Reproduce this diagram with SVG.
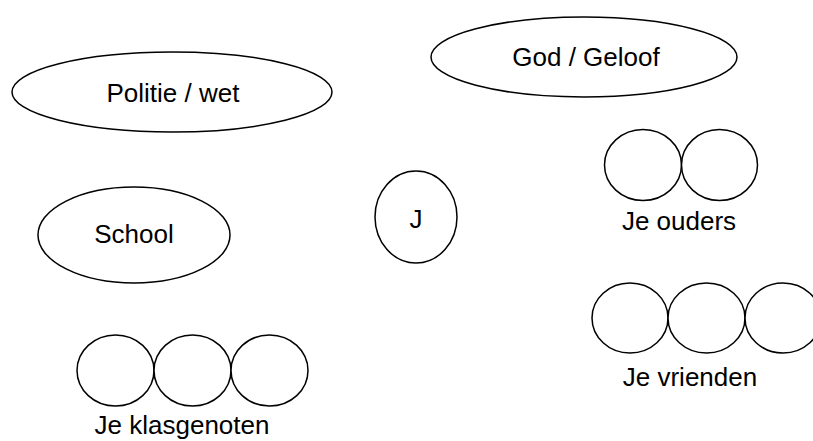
<svg xmlns="http://www.w3.org/2000/svg" width="813" height="441" viewBox="0 0 813 441">
<style>
.s{fill:#fff;stroke:#000;stroke-width:1.5}
.t{font-family:"Liberation Sans",Arial,sans-serif;font-size:26px;fill:#000;text-anchor:middle}
</style>
<rect width="813" height="441" fill="#fff"/>
<g id="god"><ellipse class="s" cx="584" cy="57" rx="153" ry="40"/><text class="t" x="586" y="66">God / Geloof</text></g>
<g id="politie"><ellipse class="s" cx="172" cy="92" rx="160" ry="40"/><text class="t" x="173" y="102">Politie / wet</text></g>
<g id="school"><ellipse class="s" cx="134" cy="235" rx="96" ry="48"/><text class="t" x="134" y="243">School</text></g>
<g id="j"><ellipse class="s" cx="416" cy="217" rx="41" ry="46"/><text class="t" x="416" y="228">J</text></g>
<g id="ouders"><ellipse class="s" cx="643" cy="165" rx="38.5" ry="35.5"/><ellipse class="s" cx="719.5" cy="165" rx="38" ry="35.5"/><text class="t" x="679" y="230">Je ouders</text></g>
<g id="vrienden"><ellipse class="s" cx="630" cy="318" rx="38" ry="35"/><ellipse class="s" cx="706.5" cy="318" rx="38.5" ry="35"/><ellipse class="s" cx="783" cy="318" rx="38" ry="35"/><text class="t" x="690" y="386">Je vrienden</text></g>
<g id="klasgenoten"><ellipse class="s" cx="115.5" cy="370.5" rx="38.5" ry="35.5"/><ellipse class="s" cx="192.5" cy="370.5" rx="38.5" ry="35.5"/><ellipse class="s" cx="269.5" cy="370.5" rx="38.5" ry="35.5"/><text class="t" x="182" y="434">Je klasgenoten</text></g>
<g id="connectors"/>
</svg>
